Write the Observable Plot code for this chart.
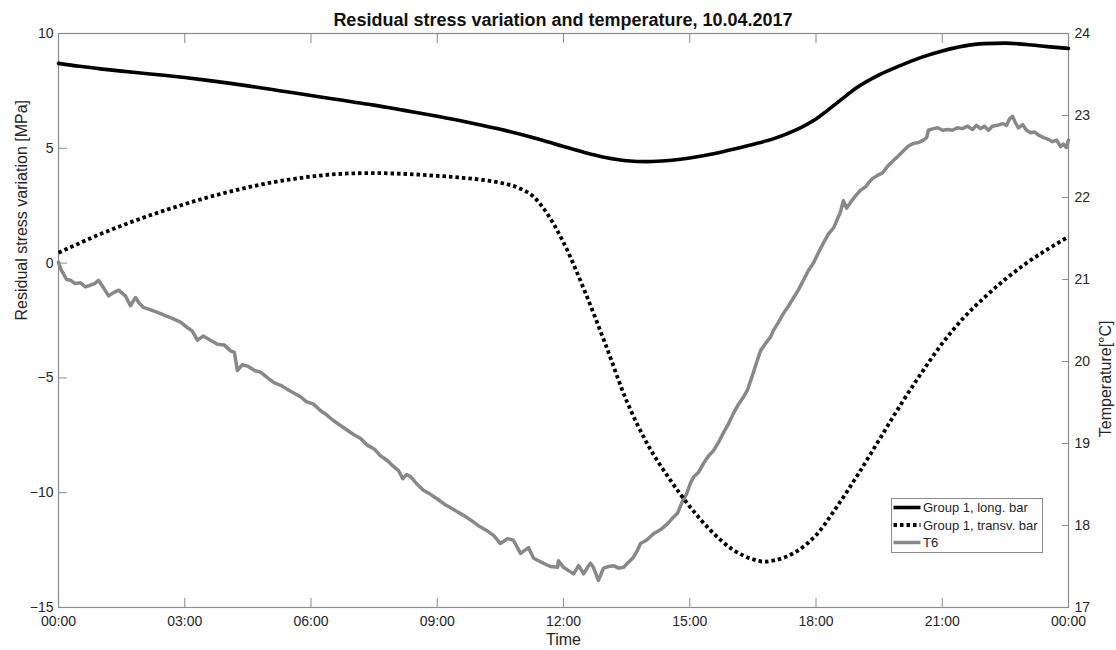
<!DOCTYPE html>
<html>
<head>
<meta charset="utf-8">
<script src="https://cdn.jsdelivr.net/npm/d3@7"></script>
<script src="https://cdn.jsdelivr.net/npm/@observablehq/plot@0.6"></script>
<style>
  body { margin: 0; background: #fff; font-family: Arial, "Liberation Sans", Helvetica, sans-serif; }
  #wrap { position: relative; width: 1116px; height: 650px; overflow: hidden; }
  #title { position: absolute; z-index: 2; left: 58px; width: 1010px; top: 6px; line-height: 28px; text-align: center;
           font-weight: bold; font-size: 18px; color: #111; }
  #chart { position: absolute; z-index: 1; left: 0; top: 28px; }
  #legend { position: absolute; z-index: 3; left: 891px; top: 498px; }
</style>
</head>
<body>
<div id="wrap">
  <div id="title">Residual stress variation and temperature, 10.04.2017</div>
  <div id="chart"></div>
  <div id="legend"></div>
</div>
<script>
// ---- Data ----
const xTicks = [0, 3, 6, 9, 12, 15, 18, 21, 24];
const xTickLabels = ["00:00", "03:00", "06:00", "09:00", "12:00", "15:00", "18:00", "21:00", "00:00"];
const yTicks = [-15, -10, -5, 0, 5, 10];
const tempTicks = [17, 18, 19, 20, 21, 22, 23, 24];

const xLabel = "Time";
const yLabelLeft = "Residual stress variation [MPa]";
const yLabelRight = "Temperature[°C]";
const seriesNames = ["Group 1, long. bar", "Group 1, transv. bar", "T6"];

const hoursLong = [0,0.5,1,1.5,2,2.5,3,3.5,4,4.5,5,5.5,6,6.5,7,7.5,8,8.5,9,9.5,10,10.5,11,11.5,12,12.5,13,13.5,14,14.5,15,15.5,16,16.5,17,17.5,18,18.5,19,19.5,20,20.5,21,21.5,22,22.5,23,23.5,24];
const stressLong = [8.70,8.57,8.46,8.36,8.27,8.18,8.08,7.97,7.85,7.72,7.58,7.44,7.30,7.16,7.02,6.88,6.72,6.56,6.40,6.22,6.03,5.83,5.60,5.35,5.08,4.82,4.60,4.46,4.42,4.47,4.58,4.74,4.95,5.17,5.42,5.78,6.28,6.98,7.68,8.20,8.60,8.96,9.24,9.45,9.56,9.58,9.52,9.43,9.35];

const hoursTransv = [0,0.5,1,1.5,2,2.5,3,3.5,4,4.5,5,5.5,6,6.5,7,7.5,8,8.5,9,9.5,10,10.5,11,11.25,11.5,11.75,12,12.5,13,13.5,14,14.5,15,15.5,16,16.5,16.75,17,17.5,18,18.5,19,19.5,20,20.5,21,21.5,22,22.5,23,23.5,24];
const stressTransv = [0.45,0.87,1.27,1.63,1.97,2.28,2.57,2.84,3.08,3.30,3.49,3.64,3.77,3.86,3.91,3.92,3.90,3.86,3.80,3.73,3.64,3.50,3.22,2.95,2.45,1.75,0.90,-1.20,-3.55,-6.00,-7.90,-9.35,-10.60,-11.65,-12.45,-12.90,-13.00,-12.95,-12.60,-11.85,-10.60,-9.20,-7.70,-6.20,-4.80,-3.50,-2.40,-1.50,-0.70,0.00,0.60,1.15];

const hoursT6 = [0.00,0.07,0.12,0.19,0.29,0.40,0.52,0.64,0.76,0.86,
0.95,1.07,1.19,1.31,1.43,1.52,1.59,1.71,1.83,1.92,
2.02,2.19,2.35,2.54,2.73,2.90,3.07,3.18,3.30,3.44,
3.61,3.78,3.94,4.09,4.18,4.25,4.37,4.51,4.66,4.80,
4.97,5.13,5.28,5.44,5.61,5.75,5.89,6.06,6.23,6.37,
6.53,6.70,6.84,7.01,7.18,7.34,7.51,7.65,7.82,7.96,
8.08,8.18,8.27,8.36,8.51,8.67,8.84,9.01,9.17,9.34,
9.50,9.67,9.84,10.00,10.17,10.34,10.50,10.67,10.81,10.98,
11.17,11.29,11.41,11.52,11.69,11.86,11.88,12.00,12.12,12.24,
12.36,12.48,12.57,12.64,12.71,12.83,12.95,13.07,13.19,13.31,
13.43,13.54,13.66,13.76,13.83,13.97,14.14,14.31,14.47,14.59,
14.71,14.83,14.92,15.02,15.09,15.21,15.33,15.45,15.56,15.68,
15.80,15.92,16.04,16.16,16.28,16.37,16.49,16.59,16.68,16.80,
16.92,16.99,17.11,17.23,17.35,17.47,17.58,17.70,17.82,17.94,
18.06,18.18,18.30,18.42,18.51,18.58,18.65,18.73,18.82,18.94,
19.06,19.18,19.25,19.34,19.46,19.58,19.70,19.84,19.96,20.08,
20.20,20.32,20.44,20.55,20.63,20.67,20.79,20.89,21.01,21.13,
21.24,21.36,21.48,21.60,21.72,21.81,21.91,22.00,22.10,22.19,
22.31,22.43,22.53,22.60,22.67,22.74,22.81,22.91,23.00,23.10,
23.19,23.29,23.41,23.52,23.62,23.72,23.81,23.88,23.95,24.00];
const tempT6 = [21.21,21.11,21.07,21.00,20.99,20.95,20.96,20.91,20.93,20.95,
20.99,20.90,20.80,20.84,20.87,20.83,20.80,20.68,20.78,20.71,
20.66,20.63,20.60,20.56,20.52,20.48,20.41,20.37,20.26,20.31,
20.26,20.21,20.20,20.13,20.11,19.89,19.96,19.94,19.89,19.87,
19.80,19.74,19.71,19.66,19.61,19.57,19.51,19.48,19.40,19.35,
19.28,19.22,19.17,19.11,19.06,18.98,18.93,18.85,18.79,18.72,
18.67,18.57,18.62,18.60,18.51,18.43,18.38,18.32,18.26,18.21,
18.16,18.11,18.05,17.99,17.94,17.88,17.78,17.84,17.82,17.66,
17.73,17.60,17.57,17.54,17.50,17.49,17.57,17.49,17.45,17.41,
17.51,17.41,17.49,17.54,17.49,17.33,17.48,17.50,17.51,17.48,
17.49,17.55,17.61,17.70,17.78,17.82,17.90,17.95,18.02,18.09,
18.15,18.30,18.38,18.52,18.59,18.65,18.76,18.85,18.91,19.01,
19.13,19.24,19.37,19.48,19.57,19.65,19.83,19.99,20.13,20.22,
20.30,20.38,20.48,20.59,20.68,20.78,20.87,20.99,21.11,21.20,
21.33,21.45,21.56,21.63,21.74,21.82,21.96,21.87,21.94,22.02,
22.09,22.13,22.18,22.23,22.27,22.30,22.38,22.45,22.51,22.57,
22.63,22.66,22.67,22.70,22.73,22.82,22.84,22.85,22.82,22.83,
22.82,22.85,22.84,22.87,22.83,22.88,22.84,22.87,22.82,22.87,
22.88,22.90,22.88,22.96,22.99,22.91,22.85,22.89,22.82,22.79,
22.80,22.76,22.73,22.71,22.68,22.70,22.62,22.65,22.61,22.70];

// ---- Dual axis mapping: temperature (17..24 °C) onto stress scale (-15..10 MPa) ----
const yDomain = [-15, 10];
const tDomain = [17, 24];
const toStress = t => (t - tDomain[0]) * (yDomain[1] - yDomain[0]) / (tDomain[1] - tDomain[0]) + yDomain[0];
const toTemp = s => (s - yDomain[0]) * (tDomain[1] - tDomain[0]) / (yDomain[1] - yDomain[0]) + tDomain[0];

const longRows = hoursLong.map((h, i) => ({h, s: stressLong[i]}));
const transvRows = hoursTransv.map((h, i) => ({h, s: stressTransv[i]}));
const t6Rows = hoursT6.map((h, i) => ({h, s: toStress(tempT6[i])}));

const AX = "#8c8c8c", TXT = "#262626", GRAY = "#888888";
const FONT = 'Arial, "Liberation Sans", Helvetica, sans-serif';

const chart = Plot.plot({
  width: 1116, height: 622,
  marginTop: 5, marginBottom: 43, marginLeft: 58, marginRight: 48,
  style: {fontFamily: FONT, fontSize: "14px", color: TXT, background: "transparent", overflow: "visible"},
  x: {type: "linear", domain: [0, 24]},
  y: {type: "linear", domain: yDomain},
  marks: [
    Plot.frame({stroke: AX, strokeWidth: 1.2}),
    Plot.line(t6Rows, {x: "h", y: "s", stroke: GRAY, strokeWidth: 3.5, strokeLinejoin: "round"}),
    Plot.line(transvRows, {x: "h", y: "s", stroke: "#000", strokeWidth: 3.8, strokeDasharray: "3.5,3", strokeLinecap: "butt", curve: "monotone-x"}),
    Plot.line(longRows, {x: "h", y: "s", stroke: "#000", strokeWidth: 3.6, curve: "monotone-x"}),
    Plot.axisX(xTicks, {anchor: "bottom", tickSize: -9, tickPadding: 18, stroke: AX, fill: TXT,
      tickFormat: d => xTickLabels[xTicks.indexOf(d)], label: null}),
    Plot.axisX(xTicks, {anchor: "top", tickSize: -9, stroke: AX, tickFormat: () => "", label: null}),
    Plot.axisY(yTicks, {anchor: "left", tickSize: -9, tickPadding: 14, stroke: AX, fill: TXT, label: null}),
    Plot.axisY(tempTicks.map(toStress), {anchor: "right", tickSize: -7, tickPadding: 13, stroke: AX, fill: TXT,
      tickFormat: d => String(Math.round(toTemp(d))), label: null}),
    Plot.text([xLabel], {frameAnchor: "bottom", dy: 37, fontSize: 16, fill: TXT}),
    Plot.text([yLabelLeft], {frameAnchor: "left", rotate: -90, dx: -37, fontSize: 16, fill: TXT}),
    Plot.text([yLabelRight], {frameAnchor: "right", rotate: -90, dx: 37, fontSize: 16, fill: TXT})
  ]
});
document.getElementById("chart").appendChild(chart);

// ---- Legend ----
const legendStyles = [
  {stroke: "#000", width: 3.6, dash: null},
  {stroke: "#000", width: 3.8, dash: "3.5,3"},
  {stroke: GRAY, width: 3.5, dash: null}
];
const ns = "http://www.w3.org/2000/svg";
const lg = document.createElementNS(ns, "svg");
lg.setAttribute("width", 153); lg.setAttribute("height", 56);
const rect = document.createElementNS(ns, "rect");
rect.setAttribute("x", 0.5); rect.setAttribute("y", 0.5); rect.setAttribute("width", 151); rect.setAttribute("height", 54);
rect.setAttribute("fill", "#fff"); rect.setAttribute("stroke", AX);
lg.appendChild(rect);
const rowY = [9.5, 27, 44.5];
seriesNames.forEach((name, i) => {
  const ln = document.createElementNS(ns, "line");
  ln.setAttribute("x1", 2.5); ln.setAttribute("x2", 29.5);
  ln.setAttribute("y1", rowY[i]); ln.setAttribute("y2", rowY[i]);
  ln.setAttribute("stroke", legendStyles[i].stroke);
  ln.setAttribute("stroke-width", legendStyles[i].width);
  if (legendStyles[i].dash) ln.setAttribute("stroke-dasharray", legendStyles[i].dash);
  lg.appendChild(ln);
  const tx = document.createElementNS(ns, "text");
  tx.setAttribute("x", 32); tx.setAttribute("y", rowY[i]);
  tx.setAttribute("dy", "0.35em");
  tx.setAttribute("font-size", "13px");
  tx.setAttribute("font-family", FONT);
  tx.setAttribute("fill", TXT);
  tx.textContent = name;
  lg.appendChild(tx);
});
document.getElementById("legend").appendChild(lg);
</script>
</body>
</html>
